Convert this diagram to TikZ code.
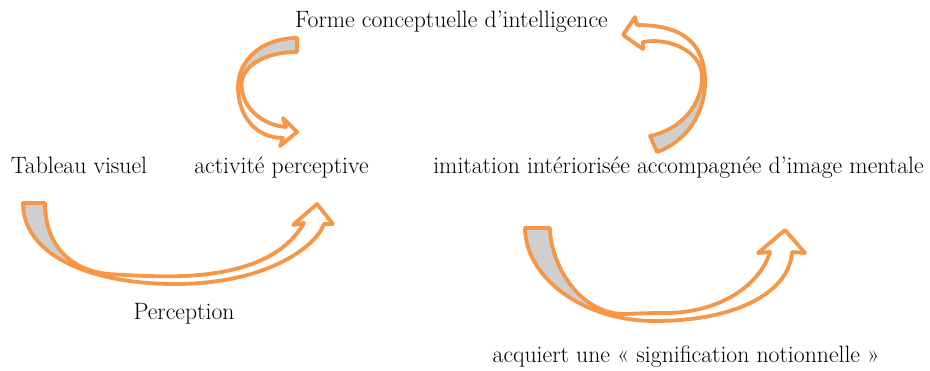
\documentclass[tikz,border=0pt]{standalone}
\definecolor{arroworange}{HTML}{F79646}
\definecolor{backgray}{HTML}{CFCFCF}

% #1 outline of the band, #2 box holding its back side (before the twist)
\newcommand{\bentarrow}[2]{%
    \fill[white] #1;
    \begin{scope}
        \clip #1;
        \fill[backgray] #2;
    \end{scope}
    \draw[arrowline] #1;
}

\begin{document}
\begin{tikzpicture}[x=1pt, y=1pt,
        every node/.style = {font=\fontsize{23.7}{28}\selectfont,
        anchor=base, inner sep=0pt},
        arrowline/.style = {draw=arroworange, line width=3.8pt,
        line join=round}]

    \useasboundingbox (0,0) rectangle (930,370);

    \node (forme) at (451.5,342) {Forme conceptuelle d’intelligence};
    \node (tableau) at (79,196) {Tableau visuel};
    \node (activite) at (281.5,196) {activité perceptive};
    \node (imitation) at (678.5,196) {imitation intériorisée accompagnée d’image mentale};
    \node (perception) at (184,50) {Perception};
    \node (acquiert) at (686,8) {acquiert une « signification notionnelle »};

    % top left
    \bentarrow{(297,332) .. controls (262,332) and (238,310) .. (238,283)
        .. controls (238,255) and (255,232) .. (283,232) -- (280,224) -- (297,238)
        -- (283,252) -- (286,243) .. controls (262,245) and (242,262) .. (241.5,285)
        .. controls (241,302) and (262,318) .. (297,318) -- cycle}
        {(200,285) rectangle (310,340)}

    % top right
    \bentarrow{(657,218) .. controls (685,228) and (705,255) .. (705,288)
        .. controls (705,325) and (685,345) .. (637,345) -- (635,353) -- (623,335)
        -- (643,321) -- (643,328) .. controls (670,333) and (701,318) .. (702,295)
        .. controls (703,265) and (680,240) .. (650,234) -- cycle}
        {(620,200) rectangle (720,295)}

    % Perception
    \bentarrow{(23,167) .. controls (23,115) and (90,86) .. (175,86)
        .. controls (265,86) and (315,122) .. (324,146) -- (333,146) -- (317,166)
        -- (293,145) -- (304,147) .. controls (285,114) and (245,97) .. (185,94)
        .. controls (150,93) and (125,95) .. (108,96)
        .. controls (70,100) and (45,125) .. (45,167) -- cycle}
        {(0,80) rectangle (108,180)}

    % signification
    \bentarrow{(525,142) .. controls (525,95) and (580,49) .. (655,49)
        .. controls (740,49) and (790,80) .. (792,118) -- (805,117) -- (785,140)
        -- (758,117) -- (770,118) .. controls (760,85) and (720,57) .. (665,57)
        .. controls (640,57) and (632,56) .. (620,56)
        .. controls (575,60) and (550,110) .. (550,142) -- cycle}
        {(500,40) rectangle (620,160)}
\end{tikzpicture}
\end{document}
